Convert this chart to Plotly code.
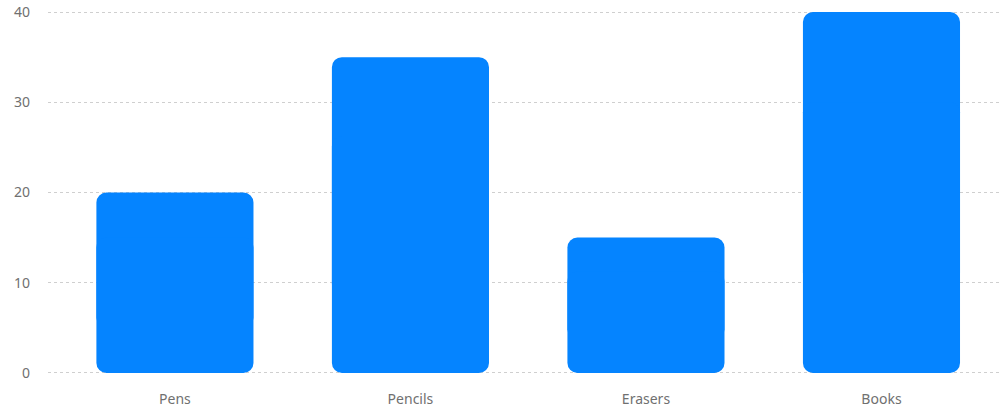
import plotly.graph_objects as go

categories = ["Pens", "Pencils", "Erasers", "Books"]
values = [20, 35, 15, 40]
y_ticks = [0, 10, 20, 30, 40]

bar_color = "#0584ff"
upper_base = [v * 0.25 for v in values]
upper_len = [v * 0.75 for v in values]
lower_base = [v * 0.75 for v in values]
lower_len = [-v * 0.75 for v in values]

fig = go.Figure()
# Upper part: from 25% of value to the top (rounded top corners)
fig.add_trace(go.Bar(x=categories, y=upper_len, base=upper_base,
                     marker=dict(color=bar_color, line=dict(width=0)),
                     width=0.667, hoverinfo="skip", showlegend=False))
# Lower part: from 75% of value down to zero (rounded bottom corners)
fig.add_trace(go.Bar(x=categories, y=lower_len, base=lower_base,
                     marker=dict(color=bar_color, line=dict(width=0)),
                     width=0.667, hoverinfo="skip", showlegend=False))

fig.update_layout(
    width=999, height=410,
    margin=dict(l=48, r=0, t=9, b=34),
    paper_bgcolor="white", plot_bgcolor="white",
    barmode="overlay", barcornerradius=10,
    font=dict(family="Noto Sans, Open Sans, sans-serif", size=14, color="#707070"),
    xaxis=dict(range=[-0.539, 3.499], showgrid=False, showline=False, zeroline=False,
               ticks="", ticklabelstandoff=13, tickfont=dict(size=14, color="#707070")),
    yaxis=dict(range=[-0.333, 40.333], tickvals=y_ticks, showgrid=True, gridcolor="#cfcfcf",
               griddash="3px,3px", gridwidth=1, zeroline=False, showline=False,
               ticks="", ticklabelstandoff=17, tickfont=dict(size=14, color="#707070")),
)

fig.write_html("out.html")
